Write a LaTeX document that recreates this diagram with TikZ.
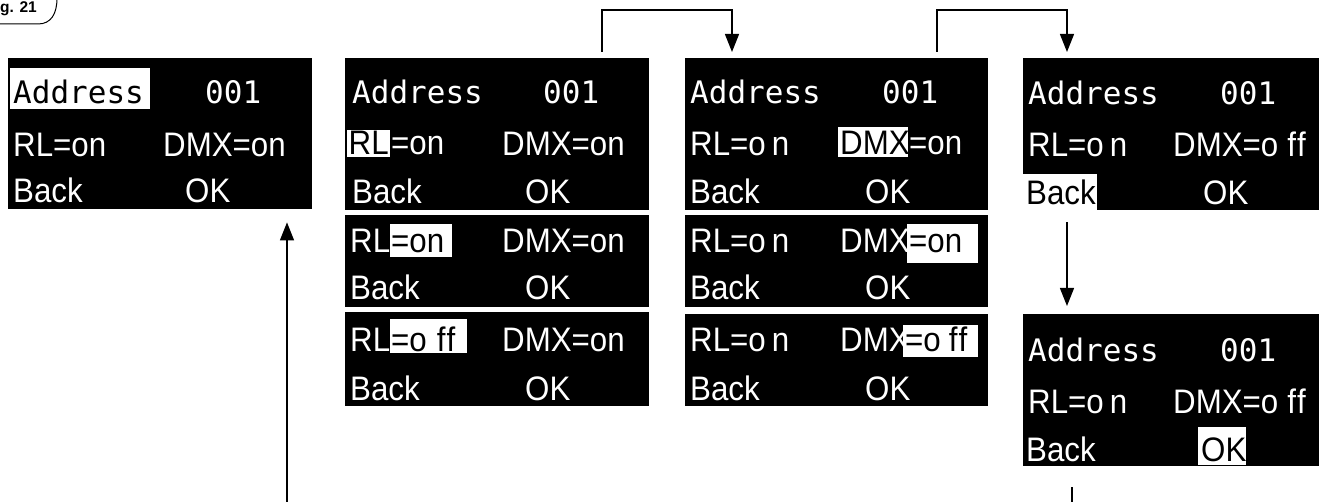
\documentclass[tikz,border=0pt]{standalone}
\usepackage{fontspec}
\setmainfont{Liberation Sans}
\newfontfamily\lcdfont[FakeStretch=0.92, Ligatures=NoCommon]{Liberation Sans}
\newfontfamily\lcdmono{DejaVu Sans Mono}
\usetikzlibrary{arrows.meta}
\newcommand\gapo[2]{#1\kern#2pt\relax}
\begin{document}
\begin{tikzpicture}[x=1pt,y=-1pt,
  scr/.style={fill=black, draw=none, inner sep=0pt, anchor=north west},
  txt/.style={anchor=base west, inner sep=0pt, text=white, font=\lcdfont\fontsize{34}{34}\selectfont},
  mtxt/.style={txt, font=\lcdmono\fontsize{31}{31}\selectfont},
  inv/.style={text=black},
  hl/.style={fill=white},
  conn/.style={line width=1.3pt, draw=black},
  arr/.style={conn, -{Triangle[length=18pt,width=14pt]}}]
\useasboundingbox (0,0) rectangle (1319,502);

% ---- figure label
\node[anchor=base east, inner sep=0pt, font=\bfseries\fontsize{15.5}{15.5}\selectfont] (fig) at (37,13) {Fig. 21};
\draw[line width=1pt] (-5,24) -- (38,24) .. controls (51,24) and (57,14) .. (57,-2);

% ---- screen 1
\node[scr, minimum width=304pt, minimum height=151pt] (s1) at (8,58) {};
\fill[hl] (10,68) rectangle (150,109);
\node[mtxt, inv] (s1a) at (13,104) {Address};
\node[mtxt] (s1n) at (205,104) {001};
\node[txt] (s1r) at (13,157) {RL=on};
\node[txt] (s1d) at (163,157) {DMX=on};
\node[txt] (s1b) at (13,203) {Back};
\node[txt] (s1o) at (185,203) {OK};

% ---- screen 2
\node[scr, minimum width=304pt, minimum height=152pt] (s2) at (345,58) {};
\node[scr, minimum width=304pt, minimum height=92pt] (s2b) at (345,215) {};
\node[scr, minimum width=304pt, minimum height=94pt] (s2c) at (345,312) {};
\node[mtxt] (s2a) at (352,104) {Address};
\node[mtxt] (s2n) at (543,104) {001};
\fill[hl] (347,130) rectangle (390,157);
\node[txt, inv] (s2r) at (348.5,155) {RL};
\node[txt] (s2e) at (391,155) {=on};
\node[txt] (s2d) at (502,156) {DMX=on};
\node[txt] (s2k) at (352,204) {Back};
\node[txt] (s2o) at (525,204) {OK};
% sub 2
\node[txt] (s2br) at (350,253) {RL};
\fill[hl] (390,224) rectangle (452,257);
\node[txt, inv] (s2be) at (391,253) {=on};
\node[txt] (s2bd) at (502,253) {DMX=on};
\node[txt] (s2bk) at (350,300) {Back};
\node[txt] (s2bo) at (525,300) {OK};
% sub 3
\node[txt] (s2cr) at (350,352) {RL};
\fill[hl] (390,319) rectangle (467,353);
\node[txt, inv] (s2ce) at (391,352) {=\gapo{o}{10}f\kern1pt f};
\node[txt] (s2cd) at (502,352) {DMX=on};
\node[txt] (s2ck) at (350,400) {Back};
\node[txt] (s2co) at (525,400) {OK};

% ---- screen 3
\node[scr, minimum width=303pt, minimum height=152pt] (s3) at (685,58) {};
\node[scr, minimum width=303pt, minimum height=92pt] (s3b) at (685,215) {};
\node[scr, minimum width=303pt, minimum height=92pt] (s3c) at (685,314) {};
\node[mtxt] (s3a) at (690,104) {Address};
\node[mtxt] (s3n) at (882,104) {001};
\node[txt] (s3r) at (690,156) {RL=\gapo{o}{6}n};
\fill[hl] (838,127) rectangle (908,157);
\node[txt, inv] (s3d) at (840,155) {DMX};
\node[txt] (s3e) at (909,155) {=on};
\node[txt] (s3k) at (690,204) {Back};
\node[txt] (s3o) at (865,204) {OK};
% sub 2
\node[txt] (s3br) at (690,253) {RL=\gapo{o}{6}n};
\node[txt] (s3bd) at (840,253) {DMX};
\fill[hl] (907,224) rectangle (978,263);
\node[txt, inv] (s3be) at (909,253) {=on};
\node[txt] (s3bk) at (690,300) {Back};
\node[txt] (s3bo) at (865,300) {OK};
% sub 3
\node[txt] (s3cr) at (690,352) {RL=\gapo{o}{6}n};
\node[txt] (s3cd) at (840,352) {DMX};
\fill[hl] (903,325) rectangle (978,357);
\node[txt, inv] (s3ce) at (905,352) {=\gapo{o}{8}f\kern1pt f};
\node[txt] (s3ck) at (690,400) {Back};
\node[txt] (s3co) at (865,400) {OK};

% ---- screen 4
\node[scr, minimum width=296pt, minimum height=152pt] (s4) at (1023,58) {};
\node[mtxt] (s4a) at (1028,105) {Address};
\node[mtxt] (s4n) at (1220,105) {001};
\node[txt] (s4r) at (1028,157) {RL=\gapo{o}{6}n};
\node[txt] (s4d) at (1173,157) {DMX=\gapo{o}{9}f\kern1pt f};
\fill[hl] (1023,174) rectangle (1097,210);
\node[txt, inv] (s4k) at (1026,205) {Back};
\node[txt] (s4o) at (1203,205) {OK};

% ---- screen 5
\node[scr, minimum width=296pt, minimum height=152pt] (s5) at (1023,314) {};
\node[mtxt] (s5a) at (1028,361) {Address};
\node[mtxt] (s5n) at (1220,361) {001};
\node[txt] (s5r) at (1028,413) {RL=\gapo{o}{6}n};
\node[txt] (s5d) at (1173,413) {DMX=\gapo{o}{9}f\kern1pt f};
\node[txt] (s5k) at (1026,461) {Back};
\fill[hl] (1198,427) rectangle (1246,465);
\node[txt, inv] (s5o) at (1201,461) {OK};

% ---- connectors
\coordinate (j1) at (602,10);
\coordinate (j2) at (732,10);
\coordinate (j3) at (937,10);
\coordinate (j4) at (1067,10);
\coordinate (j5) at (1067,260);
\coordinate (b1) at (287,502);
\coordinate (b2) at (1072,502);
\draw[arr, shorten <=6pt, shorten >=6pt] (s2.north -| j1) -- (j1) -- (j2) -- (s3.north -| j2);
\draw[arr, shorten <=6pt, shorten >=6pt] (s3.north -| j3) -- (j3) -- (j4) -- (s4.north -| j4);
\draw[arr, shorten <=12pt, shorten >=8pt] (s4.south -| j5) -- (s5.north -| j5);
\draw[arr, shorten >=13pt] (b1) -- (s1.south -| b1);
\draw[conn, shorten <=21pt] (s5.south -| b2) -- (b2);
\end{tikzpicture}
\end{document}
